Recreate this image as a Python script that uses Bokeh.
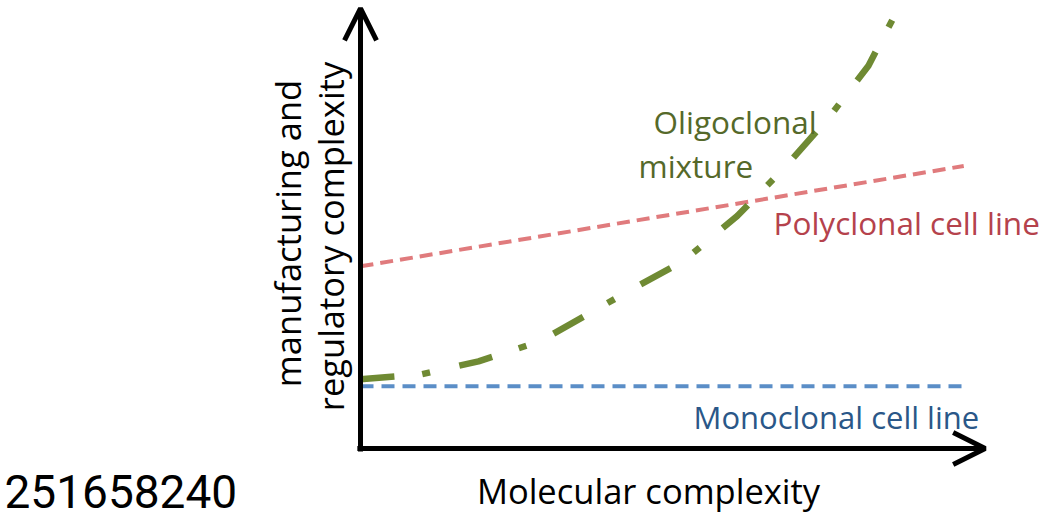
from bokeh.plotting import figure
from bokeh.models import Range1d, Arrow, OpenHead, Label
from bokeh.embed import file_html
from bokeh.resources import INLINE

# ---- data (arbitrary units: x 0..100 molecular complexity, y 0..100 complexity) ----
mono_x = [0, 95.4]
mono_y = [14.2, 14.2]
poly_x = [0, 95.6]
poly_y = [41.6, 64.5]
oligo_x = [0, 9.5, 18.7, 28.5, 43.3, 51.2, 59.7, 67.0, 74.2, 80.5, 85.9, 88.5]
oligo_y = [15.8, 16.9, 19.9, 24.5, 36.6, 42.8, 53.1, 63.8, 75.5, 87.4, 102.3, 110.0]
axis_x_end = 99.0
axis_y_end = 100.5

labels_text = {
    "oligo1": "Oligoclonal",
    "oligo2": "mixture",
    "poly": "Polyclonal cell line",
    "mono": "Monoclonal cell line",
    "xlab": "Molecular complexity",
    "ylab1": "manufacturing and",
    "ylab2": "regulatory complexity",
    "code": "251658240",
}

W, H = 1050, 523
# layout mapping: origin at picture (360, 448); 6.31 px/unit in x, 4.38 px/unit in y
ox, oy = 360, H - 448
kx, ky = 6.31, 4.38

p = figure(width=W, height=H, output_backend="svg", toolbar_location=None,
           x_range=Range1d(-ox / kx, (W - ox) / kx),
           y_range=Range1d(-oy / ky, (H - oy) / ky),
           min_border=0, outline_line_color=None)
p.axis.visible = False
p.grid.visible = False
p.background_fill_color = "white"

FONT = "Open Sans"

p.line(mono_x, mono_y, line_color="#5b8ec7", line_width=4, line_dash="13 8")
p.line(poly_x, poly_y, line_color="#e07b7d", line_width=4, line_dash="13 7")
p.line(oligo_x, oligo_y, line_color="#6f8a33", line_width=6.5, line_dash="34 28 8 30")

# axes as arrows
p.add_layout(Arrow(x_start=0, y_start=-0.7, x_end=0, y_end=axis_y_end,
                   line_width=5, line_color="black",
                   end=OpenHead(size=32, line_width=5, line_color="black")))
p.add_layout(Arrow(x_start=-0.5, y_start=0, x_end=axis_x_end, y_end=0,
                   line_width=5, line_color="black",
                   end=OpenHead(size=32, line_width=5, line_color="black")))

def sx(px):
    return px

def sy(py):
    return H - py

def lab(key, px, py, color, size, align="left", angle=0.0, font=FONT):
    p.add_layout(Label(x=sx(px), y=sy(py), x_units="screen", y_units="screen",
                       text=labels_text[key], text_color=color, text_font=font,
                       text_font_size=f"{size}px", text_align=align,
                       text_baseline="middle", angle=angle))

lab("oligo1", 653, 121, "#55692a", 31.5)
lab("oligo2", 638, 165, "#55692a", 31.5)
lab("poly", 773, 222, "#b5424c", 31.5)
lab("mono", 693, 416, "#2a5788", 31)
lab("xlab", 648, 490, "black", 34.5, align="center")
lab("ylab1", 287, 233, "black", 34.5, align="center", angle=1.5708)
lab("ylab2", 330, 236, "black", 34.5, align="center", angle=1.5708)
lab("code", 4, 491, "black", 46, font="Roboto")

open("out.html", "w").write(file_html(p, INLINE))
